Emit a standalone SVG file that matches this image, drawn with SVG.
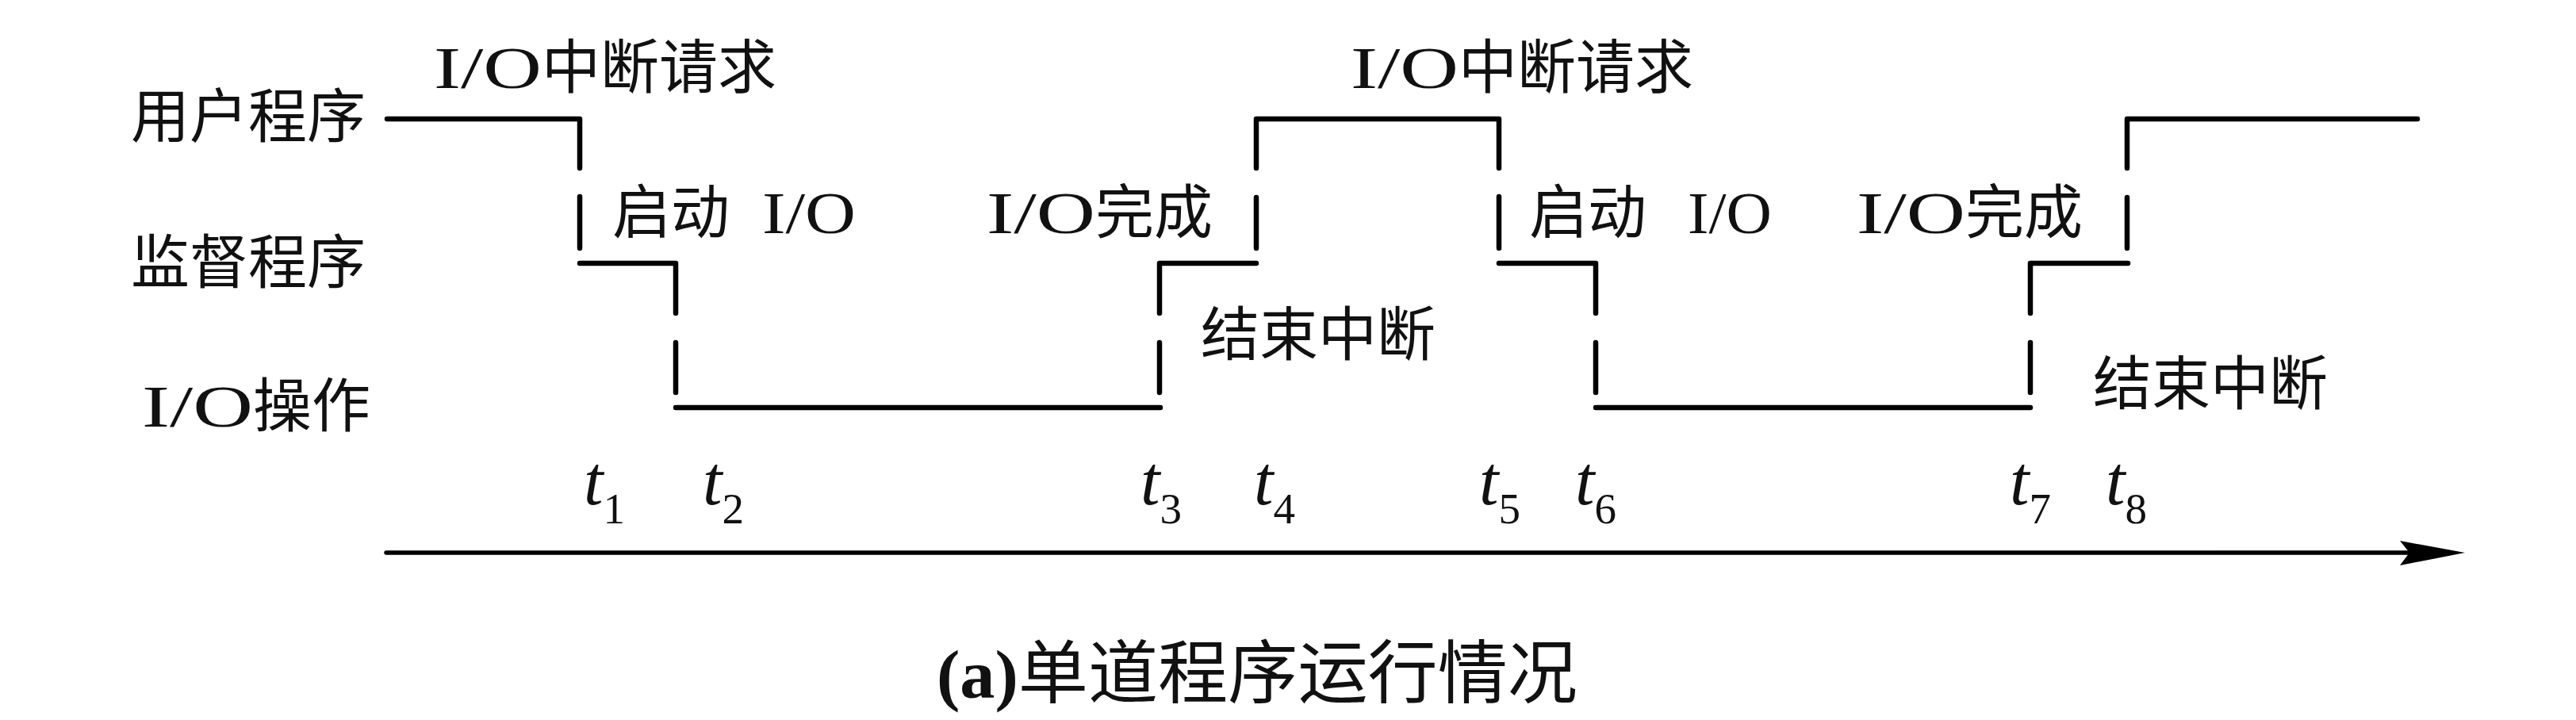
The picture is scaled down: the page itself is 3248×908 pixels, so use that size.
<svg xmlns="http://www.w3.org/2000/svg" width="3248" height="908" viewBox="0 0 3248 908">
<style>
text{font-family:"Liberation Serif","Noto Sans CJK SC",serif;fill:#111}
.lbl{font-size:74px}
.t{font-size:88px;font-style:italic}
.sub{font-size:55px;font-style:normal}
.cap{font-size:87px}
.w{fill:none;stroke:#000;stroke-width:6.5;stroke-linecap:round;stroke-linejoin:round}
.ax{fill:none;stroke:#000;stroke-width:5.5;stroke-linecap:round}
</style>
<rect width="3248" height="908" fill="#fff"/>
<g id="row-labels">
<text id="lbl-user" class="lbl" x="165" y="173">用户程序</text>
<text id="lbl-sup" class="lbl" x="165" y="357">监督程序</text>
<text id="lbl-io" class="lbl" x="179" y="538"><tspan textLength="140" lengthAdjust="spacingAndGlyphs">I/O</tspan>操作</text>
</g>
<g id="event-labels">
<text id="ev-req1" class="lbl" x="547" y="111"><tspan textLength="136" lengthAdjust="spacingAndGlyphs">I/O</tspan>中断请求</text>
<text id="ev-req2" class="lbl" x="1703" y="111"><tspan textLength="136" lengthAdjust="spacingAndGlyphs">I/O</tspan>中断请求</text>
<text id="ev-start1" class="lbl" x="772" y="294">启动 <tspan x="961" textLength="118" lengthAdjust="spacingAndGlyphs">I/O</tspan></text>
<text id="ev-start2" class="lbl" x="1928" y="294">启动 <tspan x="2128" textLength="106" lengthAdjust="spacingAndGlyphs">I/O</tspan></text>
<text id="ev-done1" class="lbl" x="1244" y="294"><tspan textLength="137" lengthAdjust="spacingAndGlyphs">I/O</tspan>完成</text>
<text id="ev-done2" class="lbl" x="2341" y="294"><tspan textLength="137" lengthAdjust="spacingAndGlyphs">I/O</tspan>完成</text>
<text id="ev-end1" class="lbl" x="1514" y="448">结束中断</text>
<text id="ev-end2" class="lbl" x="2639" y="510">结束中断</text>
</g>
<g id="time-labels">
<text class="t" x="736" y="636">t<tspan class="sub" dy="24">1</tspan></text>
<text class="t" x="886" y="636">t<tspan class="sub" dy="24">2</tspan></text>
<text class="t" x="1438" y="636">t<tspan class="sub" dy="24">3</tspan></text>
<text class="t" x="1581" y="636">t<tspan class="sub" dy="24">4</tspan></text>
<text class="t" x="1865" y="636">t<tspan class="sub" dy="24">5</tspan></text>
<text class="t" x="1986" y="636">t<tspan class="sub" dy="24">6</tspan></text>
<text class="t" x="2534" y="636">t<tspan class="sub" dy="24">7</tspan></text>
<text class="t" x="2655" y="636">t<tspan class="sub" dy="24">8</tspan></text>
</g>
<g id="connectors">
<path class="w" d="M488,150 H731 V212 M731,248 V313 M731,332 H852 V395 M852,432 V495 M852,514 H1463"/>
<path class="w" d="M1462,495 V432 M1462,395 V332 H1584 M1584,313 V249 M1584,212 V150 H1890 V212 M1890,248 V313 M1890,332 H2012 V395 M2012,432 V495 M2012,514 H2560"/>
<path class="w" d="M2560,495 V432 M2560,395 V332 H2683 M2682,313 V249 M2682,212 V150 H3048"/>
<path class="ax" d="M487,697 H3045"/>
<polygon points="3108,697 3026,682 3038,697 3026,713" fill="#000"/>
</g>
<g id="caption">
<text class="cap" x="1181" y="880" textLength="808" lengthAdjust="spacingAndGlyphs"><tspan font-weight="bold">(a)</tspan>单道程序运行情况</text>
</g>
</svg>
